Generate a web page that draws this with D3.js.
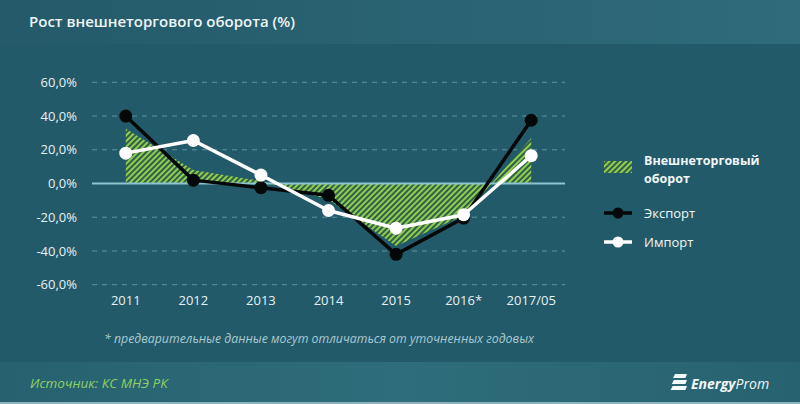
<!DOCTYPE html>
<html>
<head>
<meta charset="utf-8">
<script src="https://cdn.jsdelivr.net/npm/d3@7"></script>
<style>
html,body{margin:0;padding:0;background:#235a69;}
svg{display:block;}
</style>
</head>
<body>
<svg id="chart" width="800" height="404"></svg>
<script>
const categories = ["2011","2012","2013","2014","2015","2016*","2017/05"];
const exportVals = [40, 2, -2.5, -7, -42, -20.5, 37.5];
const importVals = [18, 25.5, 5, -16, -26.5, -18.5, 16.5];
const turnoverVals = [32.5, 8, 1.5, -9.5, -37, -19, 27];
const yTicks = [-60, -40, -20, 0, 20, 40, 60];
const titleText = "Рост внешнеторгового оборота (%)";
const footnoteText = "* предварительные данные могут отличаться от уточненных годовых";
const sourceText = "Источник: КС МНЭ РК";
const legendLabels = ["Внешнеторговый", "оборот", "Экспорт", "Импорт"];

const svg = d3.select("#chart");
const W = 800, H = 404;
const defs = svg.append("defs");

const gTop = defs.append("linearGradient").attr("id","gTop").attr("x1","0").attr("x2","1");
gTop.append("stop").attr("offset","0").attr("stop-color","#245a69");
gTop.append("stop").attr("offset","1").attr("stop-color","#2f6b7b");
const gBot = defs.append("linearGradient").attr("id","gBot").attr("x1","0").attr("x2","1");
gBot.append("stop").attr("offset","0").attr("stop-color","#27616f");
gBot.append("stop").attr("offset","0.5").attr("stop-color","#2e6d7b");
gBot.append("stop").attr("offset","1").attr("stop-color","#276270");

svg.append("rect").attr("width",W).attr("height",H).attr("fill","#235a69");
svg.append("rect").attr("width",W).attr("height",44).attr("fill","url(#gTop)");
svg.append("rect").attr("y",362).attr("width",W).attr("height",42).attr("fill","url(#gBot)");
svg.append("rect").attr("y",402).attr("width",W).attr("height",2).attr("fill","#8fb3bd");

const pat = defs.append("pattern").attr("id","hatch").attr("patternUnits","userSpaceOnUse")
  .attr("width",4).attr("height",4).attr("patternTransform","rotate(45)");
pat.append("rect").attr("width",4).attr("height",4).attr("fill","#2f6048");
pat.append("rect").attr("width",2).attr("height",4).attr("fill","#93cc52");

svg.append("text").attr("x",29).attr("y",27).text(titleText)
  .attr("font-family","'Open Sans', sans-serif").attr("font-weight",600)
  .attr("font-size",15).attr("fill","#eef5f6");

const x = d3.scaleBand().domain(categories).range([92,565]).padding(0);
const y = d3.scaleLinear().domain([-60,60]).range([284.7,82.3]);
const cx = d => x(d) + x.bandwidth()/2;

const gGrid = svg.append("g");
gGrid.selectAll("line").data(yTicks.filter(t=>t!==0)).enter().append("line")
  .attr("x1",92).attr("x2",565).attr("y1",d=>y(d)).attr("y2",d=>y(d))
  .attr("stroke","#5c95a2").attr("stroke-width",1).attr("stroke-dasharray","5,5");

const yAxis = d3.axisLeft(y).tickValues(yTicks)
  .tickFormat(d => d3.format(".1f")(d).replace(".",",").replace("−","-") + "%")
  .tickSize(0).tickPadding(0);
const gy = svg.append("g").attr("transform","translate(77,0)").call(yAxis);
gy.select(".domain").remove();
gy.selectAll("text").attr("font-family","'Open Sans', sans-serif").attr("font-size",13)
  .attr("fill","#e6f1f3");

const xAxis = d3.axisBottom(x).tickSize(0).tickPadding(0);
const gx = svg.append("g").attr("transform","translate(0,296)").call(xAxis);
gx.select(".domain").remove();
gx.selectAll("text").attr("font-family","'Open Sans', sans-serif").attr("font-size",13)
  .attr("fill","#e6f1f3");

const area = d3.area().x((d,i)=>cx(categories[i])).y0(y(0)).y1(d=>y(d));
svg.append("path").datum(turnoverVals).attr("d",area).attr("fill","url(#hatch)");

svg.append("line").attr("x1",92).attr("x2",565).attr("y1",y(0)).attr("y2",y(0))
  .attr("stroke","#8cc4d2").attr("stroke-width",2);

const line = d3.line().x((d,i)=>cx(categories[i])).y(d=>y(d));
function series(vals, color){
  svg.append("path").datum(vals).attr("d",line).attr("fill","none")
    .attr("stroke",color).attr("stroke-width",3.5).attr("stroke-linejoin","round");
  svg.append("g").selectAll("circle").data(vals).enter().append("circle")
    .attr("cx",(d,i)=>cx(categories[i])).attr("cy",d=>y(d)).attr("r",6.5).attr("fill",color);
}
series(exportVals, "#050808");
series(importVals, "#ffffff");

const lg = svg.append("g");
lg.append("rect").attr("x",604).attr("y",161).attr("width",28).attr("height",12).attr("fill","url(#hatch)");
lg.append("text").attr("x",644).attr("y",165).text(legendLabels[0]).attr("font-size",12.5);
lg.append("text").attr("x",644).attr("y",183).text(legendLabels[1]).attr("font-size",12.5);
lg.selectAll("text").attr("font-weight",700);
lg.append("line").attr("x1",604).attr("x2",632).attr("y1",213).attr("y2",213).attr("stroke","#050808").attr("stroke-width",3.5);
lg.append("circle").attr("cx",618).attr("cy",213).attr("r",5.5).attr("fill","#050808");
lg.append("text").attr("x",644).attr("y",218).text(legendLabels[2]).attr("font-size",13);
lg.append("line").attr("x1",604).attr("x2",632).attr("y1",242).attr("y2",242).attr("stroke","#ffffff").attr("stroke-width",3.5);
lg.append("circle").attr("cx",618).attr("cy",242).attr("r",5.5).attr("fill","#ffffff");
lg.append("text").attr("x",644).attr("y",247).text(legendLabels[3]).attr("font-size",13);
lg.selectAll("text").attr("font-family","'Open Sans', sans-serif").attr("fill","#f0f6f7");

svg.append("text").attr("x",104).attr("y",343).text(footnoteText)
  .attr("font-family","'Open Sans', sans-serif").attr("font-style","italic")
  .attr("font-size",12.3).attr("fill","#a9c9d1");

svg.append("text").attr("x",30).attr("y",388).text(sourceText)
  .attr("font-family","'Open Sans', sans-serif").attr("font-style","italic")
  .attr("font-size",13.5).attr("fill","#8fd163");

const logo = svg.append("g").attr("transform","translate(671,374)");
[0,6,12].forEach((dy)=>{
  logo.append("path").attr("d",`M${4-dy*0.2},${dy} L16,${dy} L${15-0.6},${dy+4} L${2-dy*0.2},${dy+4} Z`)
    .attr("fill","#f2f7f8");
});
const lt = svg.append("text").attr("x",691).attr("y",389)
  .attr("font-family","'Open Sans', sans-serif").attr("font-size",14).attr("fill","#f2f7f8");
lt.append("tspan").attr("font-weight",700).attr("font-style","italic").text("Energy");
lt.append("tspan").attr("font-style","italic").text("Prom");
</script>
</body>
</html>
